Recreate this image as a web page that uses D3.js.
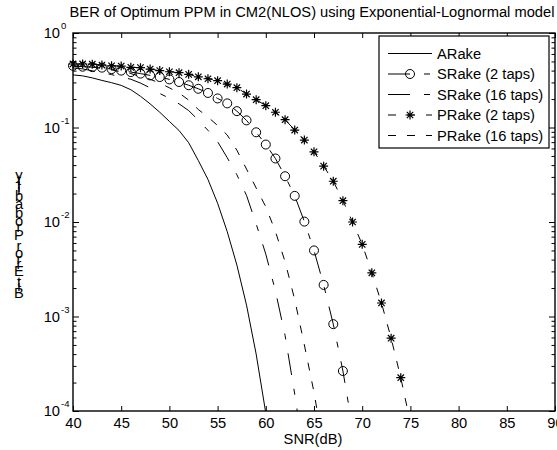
<!DOCTYPE html>
<html lang="en">
<head>
<meta charset="UTF-8">
<title>BER of Optimum PPM</title>
<style>
  body { margin: 0; background: #fff; }
  text { font-family: "Liberation Sans", Arial, sans-serif; fill: #000; }
</style>
</head>
<body>
<svg width="557" height="450"></svg>
<script src="https://d3js.org/d3.v7.min.js"></script>
<script>
// SNR points (dB), one per simulated point
var snr = [40,41,42,43,44,45,46,47,48,49,50,51,52,53,54,55,56,57,58,59,
           60,61,62,63,64,65,66,67,68,69,70,71,72,73,74,75];

// BER values
var arake   = [0.36,0.352,0.335,0.315,0.298,0.279,0.251,0.214,0.178,0.145,
               0.116,0.093,0.069,0.0447,0.0282,0.0158,0.0079,0.0035,0.00132,0.0004,
               0.000095];
var srake2  = [0.45,0.44,0.435,0.43,0.415,0.40,0.386,0.372,0.356,0.342,
               0.323,0.303,0.28,0.257,0.232,0.203,0.18,0.149,0.119,0.089,
               0.066,0.047,0.0305,0.0189,0.0101,0.005,0.00216,0.00083,0.000265,0.000066];
var srake16 = [0.427,0.417,0.398,0.380,0.363,0.343,0.324,0.295,0.263,0.229,
               0.204,0.178,0.151,0.120,0.0933,0.0708,0.0479,0.0316,0.0191,0.00955,
               0.00457,0.00186,0.00063,0.000151,0.0000316];
var prake2  = [0.47,0.47,0.468,0.458,0.45,0.447,0.433,0.43,0.415,0.40,
               0.389,0.38,0.365,0.344,0.328,0.313,0.288,0.264,0.226,0.197,
               0.17,0.145,0.121,0.094,0.0736,0.0553,0.039,0.027,0.0168,0.01,
               0.0058,0.0029,0.00139,0.00059,0.000225,0.000075];
var prake16 = [0.447,0.442,0.437,0.422,0.407,0.389,0.372,0.347,0.324,0.295,
               0.263,0.232,0.195,0.155,0.129,0.105,0.0832,0.0575,0.0363,0.0229,
               0.0145,0.00794,0.0038,0.00151,0.0005,0.000158,0.0000398];

var xTicks = [40,45,50,55,60,65,70,75,80,85,90];
var yExps = [0,-1,-2,-3,-4];

var series = [
  {name: "ARake",           vals: arake,   dash: null,           marker: null},
  {name: "SRake (2 taps)",  vals: srake2,  dash: "22,14,6,14",   marker: "circle"},
  {name: "SRake (16 taps)", vals: srake16, dash: "22,14,6,14",   marker: null},
  {name: "PRake (2 taps)",  vals: prake2,  dash: "8,11",         marker: "star"},
  {name: "PRake (16 taps)", vals: prake16, dash: "8,11",         marker: null}
];

var FS = "14.7px";
var svg = d3.select("svg");
var pL = 73, pR = 555, pT = 33, pB = 411;

var x = d3.scaleLinear().domain([40, 90]).range([pL, pR]);
var y = d3.scaleLog().domain([1e-4, 1]).range([pB, pT]);

svg.append("rect").attr("width", 557).attr("height", 450).attr("fill", "#fff");

svg.append("defs").append("clipPath").attr("id", "plotclip")
  .append("rect").attr("x", pL).attr("y", pT)
  .attr("width", pR - pL).attr("height", pB - pT);

// minor log ticks
var minor = [];
[-4,-3,-2,-1].forEach(function (e) {
  for (var m = 2; m <= 9; m++) minor.push(m * Math.pow(10, e));
});
var major = yExps.map(function (e) { return Math.pow(10, e); });

function styleAxis(g) {
  g.select(".domain").remove();
  g.selectAll(".tick line").attr("stroke", "#000").attr("stroke-width", 1);
}

svg.append("g").attr("transform", "translate(0," + pB + ")")
  .call(d3.axisBottom(x).tickValues(xTicks).tickSizeInner(-5).tickSizeOuter(0).tickPadding(7))
  .call(styleAxis)
  .selectAll("text").style("font-size", FS).style("font-family", "Liberation Sans, Arial, sans-serif");

svg.append("g").attr("transform", "translate(0," + pT + ")")
  .call(d3.axisTop(x).tickValues(xTicks).tickSizeInner(-5).tickSizeOuter(0).tickFormat(""))
  .call(styleAxis);

svg.append("g").attr("transform", "translate(" + pL + ",0)")
  .call(d3.axisLeft(y).tickValues(major).tickSizeInner(-6).tickSizeOuter(0).tickFormat(""))
  .call(styleAxis);
svg.append("g").attr("transform", "translate(" + pL + ",0)")
  .call(d3.axisLeft(y).tickValues(minor).tickSizeInner(-3.5).tickSizeOuter(0).tickFormat(""))
  .call(styleAxis);
svg.append("g").attr("transform", "translate(" + pR + ",0)")
  .call(d3.axisRight(y).tickValues(major).tickSizeInner(-6).tickSizeOuter(0).tickFormat(""))
  .call(styleAxis);
svg.append("g").attr("transform", "translate(" + pR + ",0)")
  .call(d3.axisRight(y).tickValues(minor).tickSizeInner(-3.5).tickSizeOuter(0).tickFormat(""))
  .call(styleAxis);

// box
svg.append("rect").attr("x", pL).attr("y", pT)
  .attr("width", pR - pL).attr("height", pB - pT)
  .attr("fill", "none").attr("stroke", "#000").attr("stroke-width", 1.4);

// y tick labels 10^e
var ylabels = svg.append("g");
yExps.forEach(function (e) {
  var yy = y(Math.pow(10, e));
  ylabels.append("text").attr("x", 60).attr("y", yy + 5)
    .attr("text-anchor", "end").style("font-size", FS).text("10");
  ylabels.append("text").attr("x", 61).attr("y", yy - 4)
    .style("font-size", "9.5px").text(String(e));
});

// curves
var line = d3.line()
  .x(function (d) { return x(d[0]); })
  .y(function (d) { return y(d[1]); });

var plot = svg.append("g").attr("clip-path", "url(#plotclip)");
series.forEach(function (s) {
  var pts = s.vals.map(function (v, i) { return [snr[i], v]; });
  s.pts = pts;
  plot.append("path").datum(pts)
    .attr("d", line)
    .attr("fill", "none").attr("stroke", "#000").attr("stroke-width", 1)
    .attr("stroke-dasharray", s.dash);
});

function drawMarker(g, kind, cx, cy) {
  if (kind === "circle") {
    g.append("circle").attr("cx", cx).attr("cy", cy).attr("r", 4.5)
      .attr("fill", "none").attr("stroke", "#000").attr("stroke-width", 1);
  } else if (kind === "star") {
    var a = 4.5, b = 3.2;
    g.append("path")
      .attr("d", "M" + (cx - a) + "," + cy + "H" + (cx + a) +
                 "M" + cx + "," + (cy - a) + "V" + (cy + a) +
                 "M" + (cx - b) + "," + (cy - b) + "L" + (cx + b) + "," + (cy + b) +
                 "M" + (cx - b) + "," + (cy + b) + "L" + (cx + b) + "," + (cy - b))
      .attr("stroke", "#000").attr("stroke-width", 1.2).attr("fill", "none");
  }
}

var marks = svg.append("g");
series.forEach(function (s) {
  if (!s.marker) return;
  s.pts.forEach(function (p) {
    if (p[1] < 1e-4 || p[1] > 1) return;
    drawMarker(marks, s.marker, x(p[0]), y(p[1]));
  });
});

// legend
var lg = svg.append("g");
lg.append("rect").attr("x", 379).attr("y", 36).attr("width", 170).attr("height", 112)
  .attr("fill", "#fff").attr("stroke", "#000").attr("stroke-width", 1.2);
series.forEach(function (s, i) {
  var ly = 53.5 + i * 20.5;
  lg.append("line").attr("x1", 388).attr("x2", 432).attr("y1", ly).attr("y2", ly)
    .attr("stroke", "#000").attr("stroke-width", 1).attr("stroke-dasharray", s.dash);
  if (s.marker) drawMarker(lg, s.marker, 410, ly);
  lg.append("text").attr("x", 437).attr("y", ly + 5).style("font-size", FS).text(s.name);
});

// title and x label
svg.append("text").attr("x", 312).attr("y", 17).attr("text-anchor", "middle")
  .style("font-size", FS)
  .text("BER of Optimum PPM in CM2(NLOS) using Exponential-Lognormal model");
svg.append("text").attr("x", 313).attr("y", 444).attr("text-anchor", "middle")
  .style("font-size", FS).text("SNR(dB)");

// y label: upright glyphs stacked along the rotated baseline
var ylab = "Bit Error Probability";
var meas = svg.append("text").attr("x", 0).attr("y", -50).style("font-size", FS).text(ylab);
var node = meas.node();
var c0 = (node.getStartPositionOfChar(0).x + node.getEndPositionOfChar(0).x) / 2;
var centers = [];
for (var i = 0; i < ylab.length; i++) {
  centers.push((node.getStartPositionOfChar(i).x + node.getEndPositionOfChar(i).x) / 2);
}
meas.remove();
var yl = svg.append("g");
for (var j = 0; j < ylab.length; j++) {
  if (ylab[j] === " ") continue;
  yl.append("text").attr("x", 19).attr("y", 292.5 - (centers[j] - c0) + 5)
    .attr("text-anchor", "middle").style("font-size", FS).text(ylab[j]);
}
</script>
</body>
</html>
